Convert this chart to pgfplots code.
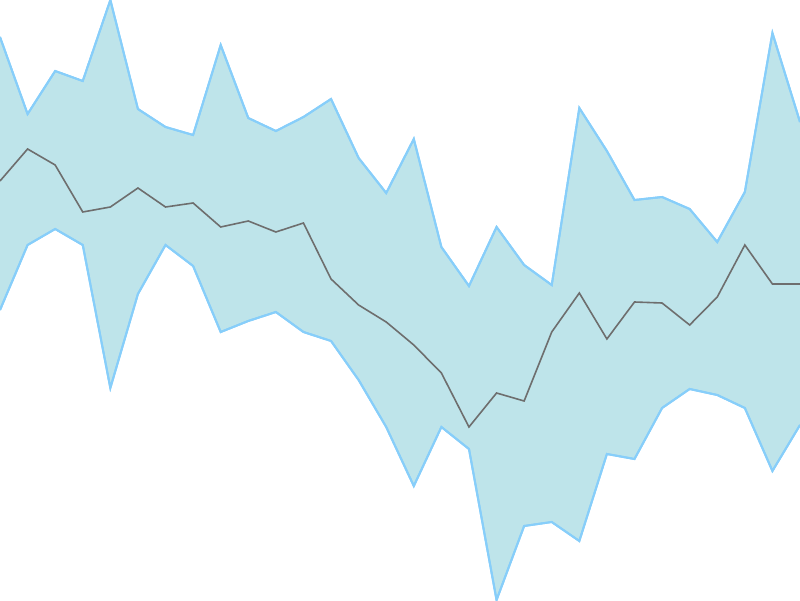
\documentclass[border=0pt]{standalone}
\usepackage{pgfplots}
\pgfplotsset{compat=1.18}
\usepgfplotslibrary{fillbetween}
\definecolor{bandfill}{RGB}{190,228,234}
\definecolor{bandline}{RGB}{135,206,250}
\definecolor{midline}{RGB}{110,110,110}
\begin{document}
\begin{tikzpicture}
\begin{axis}[
    hide axis,
    scale only axis,
    width=400pt, height=300pt,
    xmin=0, xmax=29,
    ymin=0, ymax=600,
    y dir=reverse,
]
\addplot[name path=upper, bandline, line width=1pt] coordinates {
    (0,37) (1,114) (2,71) (3,81) (4,0) (5,109) (6,127) (7,135) (8,45) (9,118)
    (10,131) (11,117) (12,99) (13,158) (14,193) (15,139) (16,247) (17,286) (18,227) (19,265)
    (20,285) (21,108) (22,151) (23,200) (24,197) (25,209) (26,242) (27,192) (28,33) (29,122)
};
\addplot[name path=lower, bandline, line width=1pt] coordinates {
    (0,310) (1,245) (2,229) (3,245) (4,388) (5,294) (6,245) (7,266) (8,332) (9,321)
    (10,312) (11,332) (12,341) (13,380) (14,427) (15,486) (16,427) (17,449) (18,600) (19,526)
    (20,522) (21,541) (22,454) (23,459) (24,408) (25,389) (26,395) (27,408) (28,471) (29,425)
};
\addplot[bandfill, draw=none] fill between[of=upper and lower];
\addplot[bandline, line width=1pt] coordinates {
    (0,37) (1,114) (2,71) (3,81) (4,0) (5,109) (6,127) (7,135) (8,45) (9,118)
    (10,131) (11,117) (12,99) (13,158) (14,193) (15,139) (16,247) (17,286) (18,227) (19,265)
    (20,285) (21,108) (22,151) (23,200) (24,197) (25,209) (26,242) (27,192) (28,33) (29,122)
};
\addplot[bandline, line width=1pt] coordinates {
    (0,310) (1,245) (2,229) (3,245) (4,388) (5,294) (6,245) (7,266) (8,332) (9,321)
    (10,312) (11,332) (12,341) (13,380) (14,427) (15,486) (16,427) (17,449) (18,600) (19,526)
    (20,522) (21,541) (22,454) (23,459) (24,408) (25,389) (26,395) (27,408) (28,471) (29,425)
};
\addplot[midline, line width=0.8pt] coordinates {
    (0,181) (1,149) (2,165) (3,212) (4,207) (5,188) (6,207) (7,203) (8,227) (9,221)
    (10,232) (11,223) (12,279) (13,305) (14,322) (15,345) (16,373) (17,427) (18,393) (19,401)
    (20,332) (21,293) (22,339) (23,302) (24,303) (25,325) (26,297) (27,245) (28,284) (29,284)
};
\end{axis}
\end{tikzpicture}
\end{document}
